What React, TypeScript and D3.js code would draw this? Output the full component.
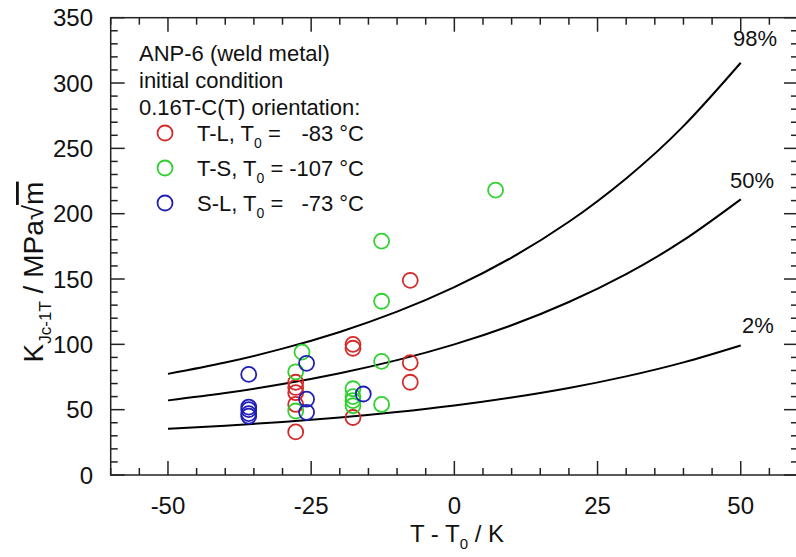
import React from "react";
import * as d3 from "d3";

// Curves: K_Jc(1T) percentile curves vs T - T0
const curveT = [-50, -40, -30, -20, -10, 0, 10, 20, 30, 40, 50];
const curve98 = [77.4, 86.1, 96.7, 109.5, 125.0, 143.8, 166.4, 193.8, 227.0, 267.0, 315.5];
const curve50 = [57.1, 62.7, 69.6, 77.9, 87.9, 100.0, 114.6, 132.4, 153.8, 179.7, 211.0];
const curve02 = [35.4, 37.7, 40.6, 44.0, 48.2, 53.2, 59.3, 66.6, 75.5, 86.2, 99.2];
const curveLabels = ["98%", "50%", "2%"];

// T-L (red)
const tlT = [-27.7, -27.7, -27.7, -27.7, -27.7, -17.7, -17.7, -17.7, -7.7, -7.7, -7.7];
const tlK = [71, 67, 63, 54, 33, 100, 97, 44, 149, 86, 71];
// T-S (green)
const tsT = [-26.6, -27.7, -27.7, -17.7, -17.7, -17.7, -17.7, -12.7, -12.7, -12.7, -12.7, 7.2];
const tsK = [94, 79, 49, 66, 60, 57, 53, 179, 133, 87, 54, 218];
// S-L (blue)
const slT = [-35.9, -35.9, -35.9, -35.9, -35.9, -25.8, -25.8, -25.8, -15.9];
const slK = [77, 52, 50, 47, 45, 85.5, 58, 48, 62];

const xTicks = [-50, -25, 0, 25, 50];
const yTicks = [0, 50, 100, 150, 200, 250, 300, 350];

const legendHeader = ["ANP-6 (weld metal)", "initial condition", "0.16T-C(T) orientation:"];
const legendNames = ["T-L, T", "T-S, T", "S-L, T"];
const legendT0 = ["-83 °C", "-107 °C", "-73 °C"];
const colors = ["#d42a2a", "#2fd12f", "#1f1fb8"];

export default function App() {
  const W = 796, H = 557;
  const x = d3.scaleLinear().domain([-60, 60]).range([110.7, 798]);
  const y = d3.scaleLinear().domain([0, 350]).range([475, 17.7]);
  const font = "'Liberation Sans', Arial, sans-serif";
  const line = d3
    .line<number>()
    .x((_, i) => x(curveT[i]))
    .y((d) => y(d))
    .curve(d3.curveNatural);

  const xMinor = d3.range(-60, 60.01, 5);
  const yMinor = d3.range(0, 350.01, 10);
  const [x0, x1] = x.range();
  const [y0, y1] = y.range();
  const major = 14, minor = 7;
  const fs = 24;

  const series = [
    { T: tlT, K: tlK, c: colors[0] },
    { T: tsT, K: tsK, c: colors[1] },
    { T: slT, K: slK, c: colors[2] },
  ];

  const curves = [curve98, curve50, curve02];
  const labelPos = [
    [755, 46],
    [752, 188],
    [758, 333],
  ];

  return (
    <svg
      width={W}
      height={H}
      style={{ position: "absolute", left: 0, top: 0, background: "#fff" }}
      fontFamily={font}
    >
      <rect x={0} y={0} width={W} height={H} fill="#fff" />
      {/* ticks */}
      <g stroke="#222" strokeWidth={1.5}>
        {xMinor.map((t) => {
          const len = t % 25 === 0 ? major : minor;
          return (
            <g key={"xt" + t}>
              <line x1={x(t)} x2={x(t)} y1={y0} y2={y0 - len} />
              <line x1={x(t)} x2={x(t)} y1={y1} y2={y1 + len} />
            </g>
          );
        })}
        {yMinor.map((v) => {
          const len = v % 50 === 0 ? major : minor;
          return (
            <g key={"yt" + v}>
              <line x1={x0} x2={x0 + len} y1={y(v)} y2={y(v)} />
              <line x1={x1} x2={x1 - len} y1={y(v)} y2={y(v)} />
            </g>
          );
        })}
        <rect x={x0} y={y1} width={x1 - x0} height={y0 - y1} fill="none" />
      </g>
      {/* tick labels */}
      <g fontSize={fs} fill="#111">
        {xTicks.map((t) => (
          <text key={"xl" + t} x={x(t)} y={514} textAnchor="middle">
            {t}
          </text>
        ))}
        {yTicks.map((v) => (
          <text key={"yl" + v} x={93} y={y(v) + 8.5} textAnchor="end">
            {v}
          </text>
        ))}
      </g>
      {/* axis titles */}
      <text x={457} y={542} fontSize={fs} textAnchor="middle" fill="#111">
        T - T
        <tspan fontSize={15} dy={7}>0</tspan>
        <tspan dy={-7}> / K</tspan>
      </text>
      <text
        transform={`translate(43, 272) rotate(-90)`}
        fontSize={28}
        textAnchor="middle"
        fill="#111"
      >
        K
        <tspan fontSize={17} dy={8}>Jc-1T</tspan>
        <tspan dy={-8}> / MPa√</tspan>
        <tspan style={{ textDecoration: "overline" }}>m</tspan>
      </text>
      {/* curves */}
      {curves.map((c, i) => (
        <path key={"c" + i} d={line(c) || ""} fill="none" stroke="#000" strokeWidth={2} />
      ))}
      {curveLabels.map((l, i) => (
        <text key={"cl" + l} x={labelPos[i][0]} y={labelPos[i][1]} fontSize={22} textAnchor="middle" fill="#111">
          {l}
        </text>
      ))}
      {/* data */}
      {series.map((s, si) =>
        s.T.map((t, i) => (
          <circle
            key={`p${si}-${i}`}
            cx={x(t)}
            cy={y(s.K[i])}
            r={7.5}
            fill="none"
            stroke={s.c}
            strokeWidth={1.8}
          />
        ))
      )}
      {/* legend */}
      <g fontSize={22} fill="#111">
        {legendHeader.map((h, i) => (
          <text key={"lh" + i} x={139} y={61 + i * 27}>
            {h}
          </text>
        ))}
        {legendNames.map((n, i) => {
          const cy = 133 + i * 35;
          return (
            <g key={"ln" + i}>
              <circle cx={165} cy={cy} r={7.5} fill="none" stroke={colors[i]} strokeWidth={1.8} />
              <text x={197} y={cy + 8}>
                {n}
                <tspan fontSize={14} dy={7}>0</tspan>
                <tspan dy={-7}> =</tspan>
              </text>
              <text x={364} y={cy + 8} textAnchor="end">
                {legendT0[i]}
              </text>
            </g>
          );
        })}
      </g>
    </svg>
  );
}
